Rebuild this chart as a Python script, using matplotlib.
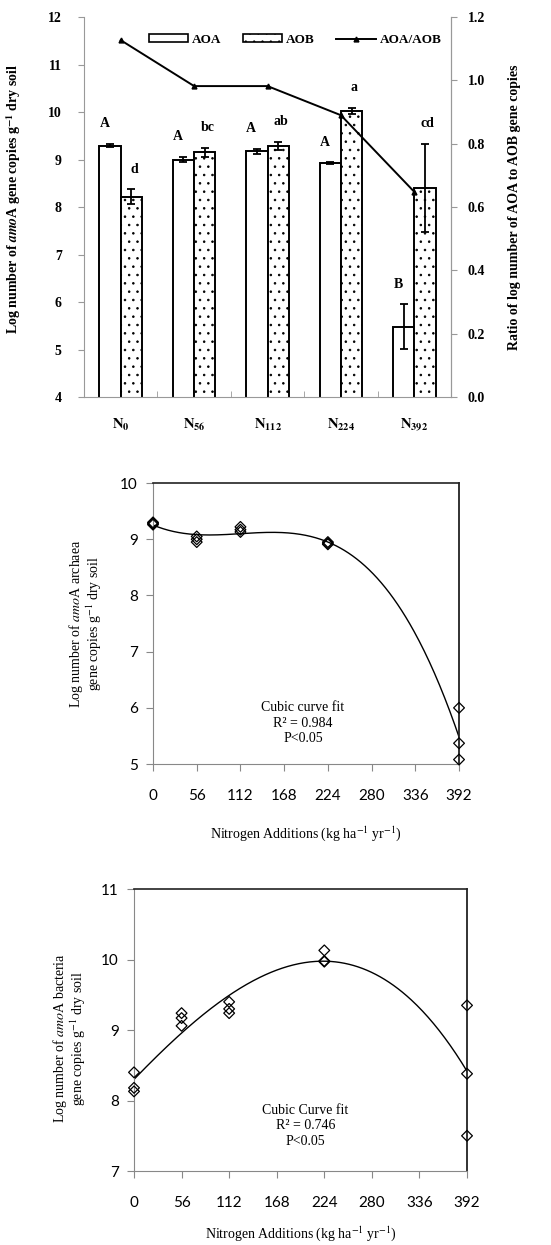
import numpy as np
import matplotlib
matplotlib.use("Agg")
import matplotlib.pyplot as plt
from matplotlib.lines import Line2D
from matplotlib.patches import Patch

# --- data ---
groups = ["$\\mathbf{N_{0}}$", "$\\mathbf{N_{56}}$", "$\\mathbf{N_{112}}$",
          "$\\mathbf{N_{224}}$", "$\\mathbf{N_{392}}$"]
aoa_mean = [9.29, 9.00, 9.17, 8.92, 5.48]
aoa_err = [0.03, 0.05, 0.05, 0.02, 0.47]
aob_mean = [8.22, 9.15, 9.29, 10.02, 8.40]
aob_err = [0.15, 0.09, 0.08, 0.07, 0.93]
ratio = [1.127, 0.982, 0.982, 0.890, 0.648]
aoa_letters = ["A", "A", "A", "A", "B"]
aob_letters = ["d", "bc", "ab", "a", "cd"]

n_levels = [0, 0, 0, 56, 56, 56, 112, 112, 112, 224, 224, 224, 392, 392, 392]
aoa_reps = [9.30, 9.28, 9.26, 9.05, 9.00, 8.95, 9.22, 9.17, 9.13, 8.95, 8.93, 8.91, 6.00, 5.37, 5.08]
aob_reps = [8.40, 8.18, 8.13, 9.24, 9.17, 9.06, 9.40, 9.30, 9.24, 10.13, 9.98, 9.97, 9.35, 8.38, 7.50]
x_ticks = [0, 56, 112, 168, 224, 280, 336, 392]

SERIF = "Liberation Serif"
SANS = "Lato"
plt.rcParams["mathtext.fontset"] = "stix"
plt.rcParams["hatch.linewidth"] = 0.6

fig = plt.figure(figsize=(5.51, 12.45), dpi=100)

# ---------------- panel 1: bars + ratio ----------------
ax1 = fig.add_axes([0.1525, 0.6811, 0.666, 0.3052])
x = np.arange(len(groups))
w = 0.29
ax1.bar(x - w / 2, aoa_mean, w, color="white", edgecolor="black", linewidth=1.4,
        yerr=aoa_err, capsize=3, error_kw=dict(elinewidth=1.3, capthick=1.3), zorder=2)
ax1.bar(x + w / 2, aob_mean, w, color="white", edgecolor="black", linewidth=1.4, hatch="..",
        yerr=aob_err, capsize=3, error_kw=dict(elinewidth=1.3, capthick=1.3), zorder=2)
ax1.set_ylim(4, 12)
ax1.set_xlim(-0.5, 4.5)
for i in range(len(groups)):
    ax1.annotate(aoa_letters[i], (x[i] - w / 2, aoa_mean[i] + aoa_err[i]), xytext=(-4, 10),
                 textcoords="offset points", ha="center", va="bottom",
                 fontsize=10, fontweight="bold", family=SERIF)
    ax1.annotate(aob_letters[i], (x[i] + w / 2, aob_mean[i] + aob_err[i]), xytext=(2, 10),
                 textcoords="offset points", ha="center", va="bottom",
                 fontsize=10, fontweight="bold", family=SERIF)

ax1.set_xticks(x)
ax1.set_xticklabels(groups, fontsize=10.5)
ax1.tick_params(axis="x", which="major", length=0, pad=14)
ax1.set_xticks([0.5, 1.5, 2.5, 3.5], minor=True)
ax1.tick_params(axis="x", which="minor", direction="in", length=4, color="#999999")
ax1.set_yticks(range(4, 13))
ax1.tick_params(axis="y", direction="out", length=4, color="#999999", pad=12)
for lab in ax1.get_yticklabels():
    lab.set_fontweight("bold"); lab.set_family(SERIF); lab.set_fontsize(10)
ax1.spines["top"].set_visible(False)
for s in ["left", "bottom", "right"]:
    ax1.spines[s].set_color("#999999")
ax1.set_ylabel("Log number of $\\mathbfit{amo}$A gene copies g$^{\\mathbf{-1}}$ dry soil",
               fontsize=10, fontweight="bold", family=SERIF)
ax1.yaxis.set_label_coords(-0.165, 0.52)

ax1r = ax1.twinx()
ax1r.plot(x, ratio, "-", color="black", marker="^", markersize=3.5, linewidth=1.4)
ax1r.set_ylim(0, 1.2)
ax1r.set_yticks(np.arange(0, 1.21, 0.2))
ax1r.set_yticklabels([f"{v:.1f}" for v in np.arange(0, 1.21, 0.2)])
ax1r.tick_params(axis="y", direction="out", length=4, color="#999999", pad=8)
for lab in ax1r.get_yticklabels():
    lab.set_fontweight("bold"); lab.set_family(SERIF); lab.set_fontsize(10)
for s in ["top", "left", "bottom"]:
    ax1r.spines[s].set_visible(False)
ax1r.spines["right"].set_color("#999999")
ax1r.set_ylabel("Ratio of log number of AOA to AOB gene copies",
                fontsize=10, fontweight="bold", family=SERIF)
ax1r.yaxis.set_label_coords(1.155, 0.5)

handles = [Patch(facecolor="white", edgecolor="black", linewidth=1.2, label="AOA"),
           Patch(facecolor="white", edgecolor="black", linewidth=1.2, hatch="..", label="AOB"),
           Line2D([0], [0], color="black", marker="^", markersize=3.5, linewidth=1.4, label="AOA/AOB")]
ax1r.legend(handles=handles, loc="center", bbox_to_anchor=(0.575, 0.94), ncol=3, frameon=False,
            handlelength=3.0, handleheight=0.5, columnspacing=1.6, handletextpad=0.3,
            prop=dict(family=SERIF, weight="bold", size=9.5))


def scatter_panel(rect, reps, ylim, yticks, txt, tx, ty, xlabel_y):
    ax = fig.add_axes(rect)
    ax.scatter(n_levels, reps, marker="D", s=30, facecolors="none", edgecolors="black",
               linewidths=0.9, zorder=3, clip_on=False)
    coef = np.polyfit(n_levels, reps, 3)
    xs = np.linspace(0, 392, 300)
    ax.plot(xs, np.polyval(coef, xs), color="black", linewidth=1.0)
    ax.set_xlim(0, 392)
    ax.set_ylim(*ylim)
    ax.set_xticks(x_ticks)
    ax.set_yticks(yticks)
    ax.tick_params(axis="both", direction="out", length=5, color="#888888", labelsize=11)
    ax.tick_params(axis="x", pad=13)
    ax.tick_params(axis="y", pad=6)
    for lab in ax.get_xticklabels() + ax.get_yticklabels():
        lab.set_family(SANS)
    ax.spines["left"].set_color("#888888")
    ax.spines["bottom"].set_color("#888888")
    ax.spines["top"].set_color("#222222")
    ax.spines["top"].set_linewidth(1.2)
    ax.spines["right"].set_color("#222222")
    ax.spines["right"].set_linewidth(1.3)
    ax.text(tx, ty, txt, ha="center", va="center", fontsize=10, family=SERIF, linespacing=1.25)
    ax.set_xlabel("Nitrogen Additions (kg ha$^{-1}$ yr$^{-1}$)", fontsize=10, family=SERIF)
    ax.xaxis.set_label_coords(0.5, xlabel_y)
    return ax


ax2 = scatter_panel([0.2777, 0.3863, 0.5554, 0.2257], aoa_reps, (5, 10), range(5, 11),
                    "Cubic curve fit\nR² = 0.984\nP<0.05", 192, 5.73, -0.215)
ax2.set_ylabel("Log number of $\\mathit{amo}$A archaea\ngene copies g$^{-1}$ dry soil",
               fontsize=10, family=SERIF, linespacing=1.0)
ax2.yaxis.set_label_coords(-0.16, 0.5)

ax3 = scatter_panel([0.2432, 0.0594, 0.6044, 0.2265], aob_reps, (7, 11), range(7, 12),
                    "Cubic Curve fit\nR² = 0.746\nP<0.05", 202, 7.64, -0.19)
ax3.set_ylabel("Log number of $\\mathit{amo}$A bacteria\ngene copies g$^{-1}$ dry soil",
               fontsize=10, family=SERIF, linespacing=1.0)
ax3.yaxis.set_label_coords(-0.138, 0.47)

fig.savefig("out.png", dpi=100)
